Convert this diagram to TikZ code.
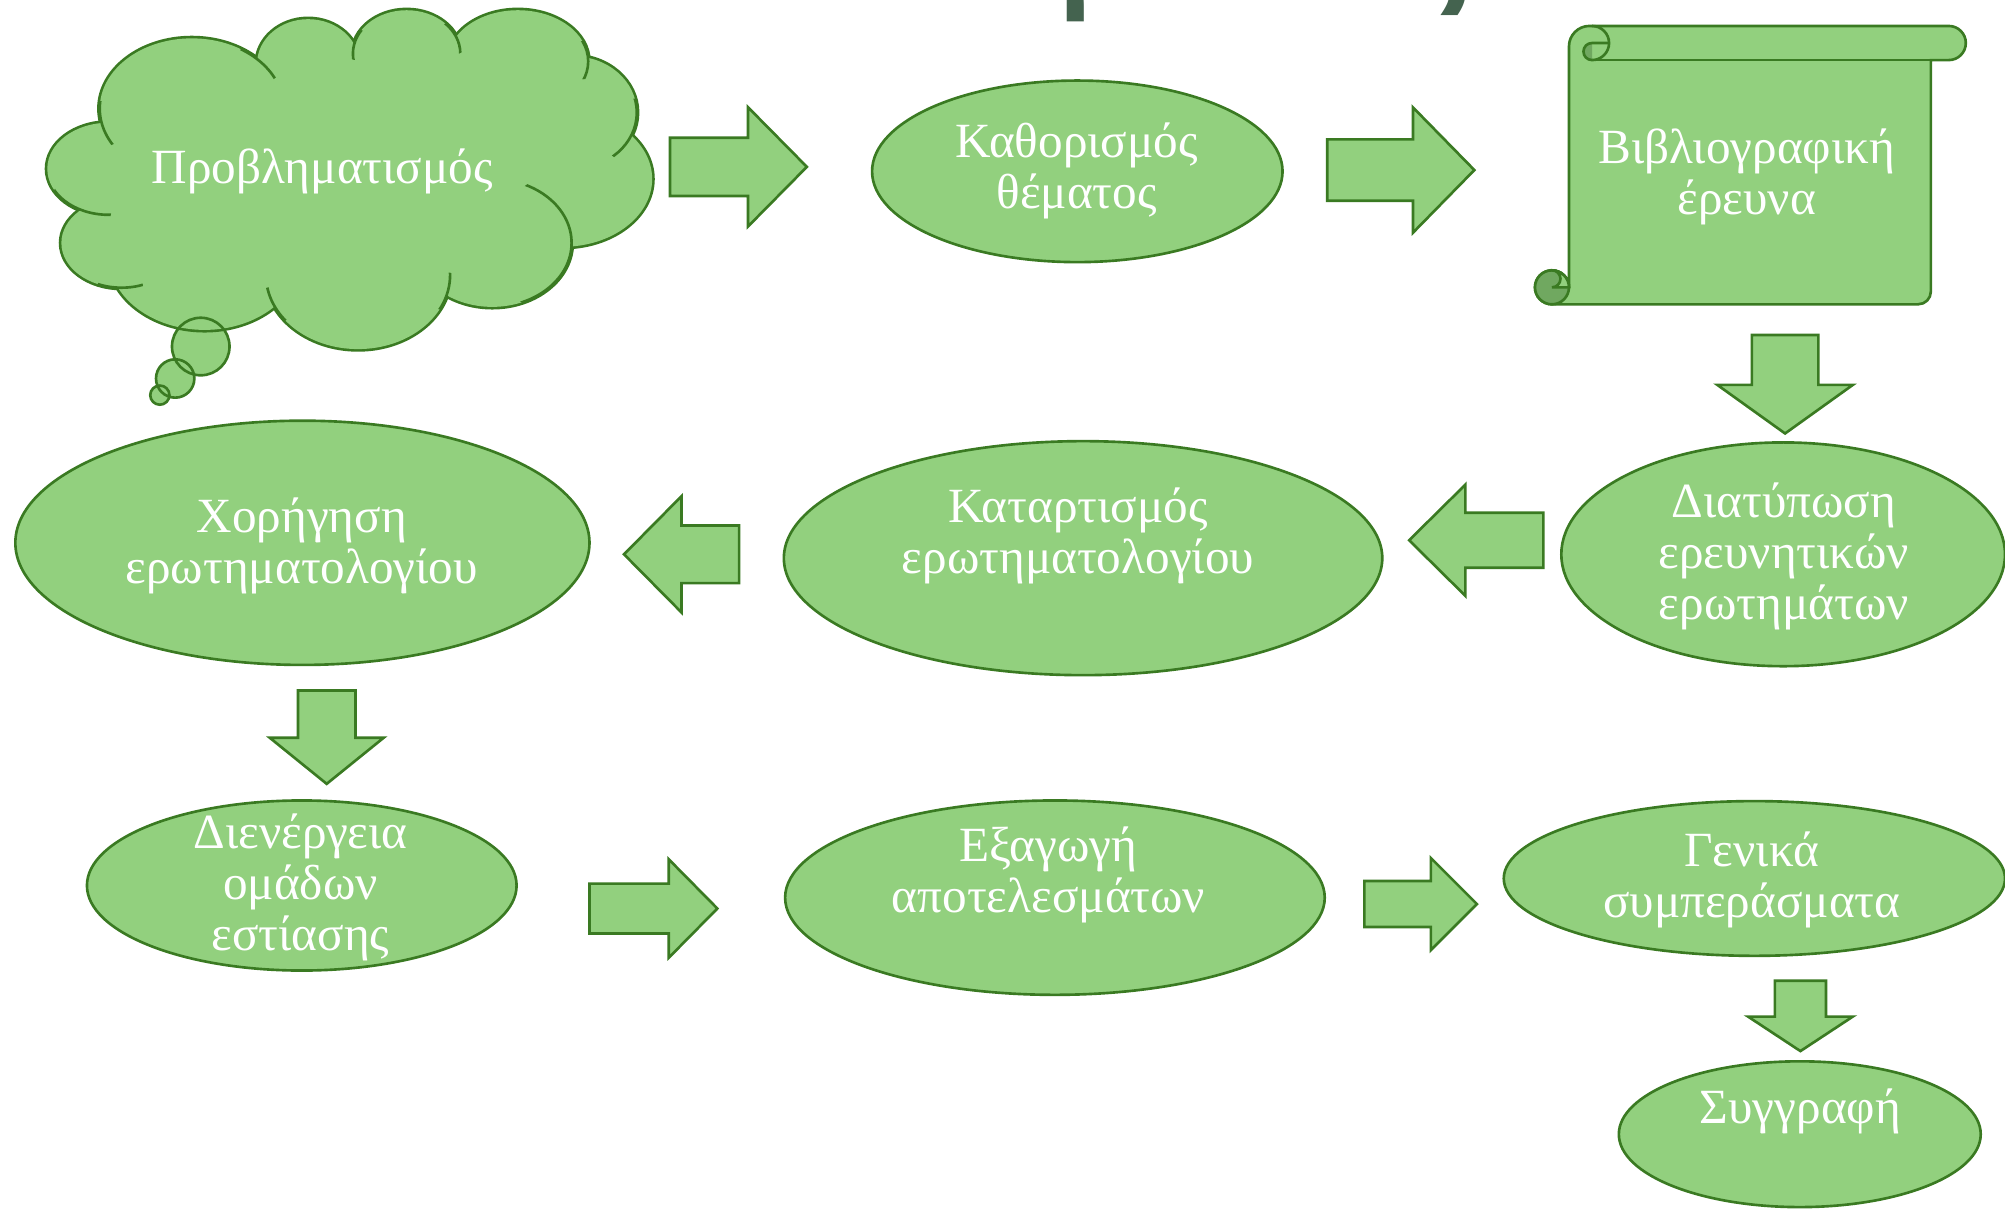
\documentclass[tikz,border=0pt]{standalone}
\usepackage{fontspec}
\setmainfont{Liberation Serif}
\newfontfamily\titlefont{Open Sans}
\usetikzlibrary{shapes.geometric}
\definecolor{gfill}{HTML}{92D07E}
\definecolor{gline}{HTML}{3A7A22}
\definecolor{gdark}{HTML}{70A860}
\definecolor{ttl}{HTML}{44634F}
\newcommand\blockarrow[7]{%
  \draw[shp, shift={(#1,#2)}, rotate=#3] (0,-#5) -- ({#4-#7},-#5) -- ({#4-#7},-#6) -- (#4,0) -- ({#4-#7},#6) -- ({#4-#7},#5) -- (0,#5) -- cycle;}
\begin{document}
\begin{tikzpicture}[x=0.012787cm, y=-0.012787cm,
  shp/.style={fill=gfill, draw=gline, line width=0.75pt},
  ln/.style={draw=gline, line width=0.75pt},
  oval/.style={shp, ellipse, inner sep=0pt},
  E/.style 2 args={oval, minimum width={2*#1*0.012787cm}, minimum height={2*#2*0.012787cm}},
  lbl/.style={text=white, align=center, font=\fontsize{14}{14.5}\selectfont, inner sep=0pt},
]
\useasboundingbox (0,0) rectangle (1568,945.5);

% title (cut off at top)
\node[font=\titlefont\bfseries\fontsize{32.4}{34}\selectfont, text=ttl, anchor=base, inner sep=0pt] (title) at (798,-4) {Στάδια έρευνας};

% ---------- cloud ----------
\def\cloudlist{150/85/72/55, 241/50/40/35, 318/42/42/34, 405/48/55/40, 448/88/50/44, 440/140/70/53, 385/190/62/50, 280/215/72/58, 160/200/75/58, 95/190/47/35, 85/132/48/36}
\fill[gfill] (157,271) circle[radius=22.5] (137,296) circle[radius=15] (125,309) circle[radius=7.5];
\foreach \x/\y/\a/\b in \cloudlist {\draw[gline, line width=1.5pt] (\x,\y) ellipse[x radius=\a, y radius=\b];}
\foreach \x/\y/\a/\b in \cloudlist {\fill[gfill] (\x,\y) ellipse[x radius=\a, y radius=\b];}
\fill[gfill] (275,135) ellipse[x radius=175, y radius=90];
\foreach \vx/\vy/\L/\x/\y/\a/\b in {80/97/18/150/85/72/55, 204/47/18/150/85/72/55, 279/35/12/318/42/42/34, 354/30/13/318/42/42/34, 456/47/15/405/48/55/40, 494/102/25/448/88/50/44, 445/192/58/385/190/62/50, 349/228/15/280/215/72/58, 214/239/15/280/215/72/58, 94/226/18/95/190/47/35, 62/164/25/85/132/48/36}
{\begin{scope}\clip (\vx,\vy) circle[radius=\L]; \draw[ln] (\x,\y) ellipse[x radius=\a, y radius=\b];\end{scope}}
\draw[ln] (157,271) circle[radius=22.5] (137,296) circle[radius=15] (125,309) circle[radius=7.5];
\node[lbl] (t0) at (252,134) {Προβληματισμός};

% ---------- scroll ----------
\draw[shp] (1227,224.7) -- (1227,36.3) arc[start angle=180, end angle=270, radius=16] -- (1524,20.3) arc[start angle=270, end angle=450, radius=13.35] -- (1510,47) -- (1510,228) arc[start angle=0, end angle=90, radius=10] -- (1213.7,238) arc[start angle=90, end angle=270, radius=13.3] arc[start angle=270, end angle=360, radius=13.3] -- cycle;
\draw[ln] (1245,47) -- (1510,47);
\draw[ln] (1245,20.3) arc[start angle=270, end angle=450, radius=13.35];
\fill[gdark] (1245,33.65) arc[start angle=270, end angle=90, radius=6.675] -- cycle;
\draw[ln] (1258.35,33.65) -- (1245,33.65) arc[start angle=270, end angle=90, radius=6.675];
\draw[shp, fill=gdark] (1213.7,224.7) circle[radius=13.3];
\draw[shp] (1213.7,211.4) arc[start angle=270, end angle=360, radius=13.3] -- (1213.7,224.7) arc[start angle=90, end angle=-90, radius=6.65] -- cycle;
\node[lbl] (t2) at (1366,138) {Βιβλιογραφική\\έρευνα};

% ---------- ellipses ----------
\node[E={160.5}{71}] (e1) at (842.5,134) {};
\node[E={173.5}{87.5}] (e2) at (1394.5,433.5) {};
\node[E={234}{91.5}] (e3) at (847,436.5) {};
\node[E={224.5}{95.5}] (e4) at (236.5,424.5) {};
\node[E={168}{66.5}] (e5) at (236,692.5) {};
\node[E={211}{76}] (e6) at (825,702) {};
\node[E={196}{60.5}] (e7) at (1372,687) {};
\node[E={141.5}{57}] (e8) at (1407.5,887) {};

\node[lbl] (t1) at (842,134) {Καθορισμός\\θέματος};
\node[lbl] (t3) at (1395,435) {Διατύπωση\\ερευνητικών\\ερωτημάτων};
\node[lbl] (t4) at (843,419) {Καταρτισμός\\ερωτηματολογίου};
\node[lbl] (t5) at (236,427) {Χορήγηση\\ερωτηματολογίου};
\node[lbl] (t6) at (235,694) {Διενέργεια\\ομάδων\\ εστίασης};
\node[lbl] (t7) at (820,684) {Εξαγωγή\\αποτελεσμάτων};
\node[lbl] (t8) at (1370,688) {Γενικά\\συμπεράσματα};
\node[lbl] (t9) at (1408,869) {Συγγραφή};

% ---------- block arrows ----------
\blockarrow{524}{130.5}{0}{107}{22.8}{46.6}{46}
\blockarrow{1038}{133}{0}{115}{24}{49}{48}
\blockarrow{1396}{262}{-90}{77}{26}{53}{38}
\blockarrow{1207}{422.5}{180}{105}{21.5}{43.5}{44}
\blockarrow{578}{433.5}{180}{90}{22.5}{45.5}{45}
\blockarrow{255.5}{540}{-90}{73}{22.5}{44.5}{36}
\blockarrow{461}{710.5}{0}{100}{19.5}{38.5}{38}
\blockarrow{1067}{707}{0}{88}{18}{36}{36}
\blockarrow{1408}{767}{-90}{55}{20}{41}{27}
\end{tikzpicture}
\end{document}
